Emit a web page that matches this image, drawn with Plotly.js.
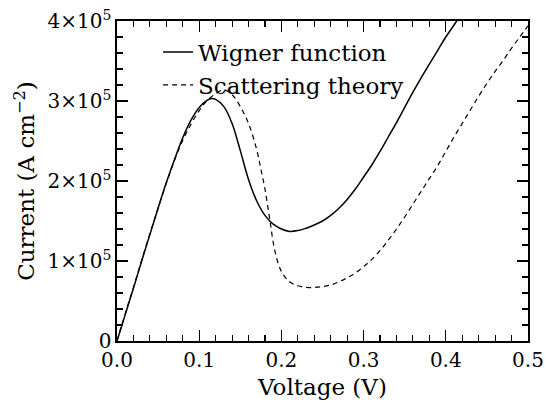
<!DOCTYPE html>
<html>
<head>
<meta charset="utf-8">
<script src="https://cdn.plot.ly/plotly-3.0.1.min.js"></script>
<style>html,body{margin:0;padding:0;background:#fff;}#chart{width:546px;height:405px;}</style>
</head>
<body>
<div id="chart"></div>
<script>
// Wigner function (solid)
const wignerV = [0, 0.01, 0.02, 0.03, 0.04, 0.05, 0.06, 0.07, 0.08, 0.09, 0.10, 0.11, 0.115, 0.12, 0.13, 0.14, 0.15, 0.16, 0.17, 0.18, 0.19, 0.20, 0.21, 0.22, 0.23, 0.24, 0.25, 0.26, 0.27, 0.28, 0.29, 0.30, 0.31, 0.32, 0.33, 0.34, 0.35, 0.36, 0.37, 0.38, 0.39, 0.40, 0.41, 0.42];
const wignerI = [0, 33e3, 66e3, 100e3, 133e3, 166e3, 198e3, 227e3, 254e3, 276e3, 292e3, 301e3, 303e3, 302e3, 293e3, 272e3, 238e3, 202e3, 175e3, 157e3, 146e3, 140e3, 137e3, 138e3, 141e3, 145e3, 150e3, 157e3, 166e3, 177e3, 190e3, 205e3, 220e3, 237e3, 255e3, 273e3, 292e3, 311e3, 329e3, 346e3, 363e3, 380e3, 395e3, 410e3];
// Scattering theory (dashed)
const scatV = [0, 0.01, 0.02, 0.03, 0.04, 0.05, 0.06, 0.07, 0.08, 0.09, 0.10, 0.11, 0.12, 0.13, 0.14, 0.15, 0.16, 0.17, 0.175, 0.18, 0.186, 0.192, 0.20, 0.21, 0.22, 0.23, 0.24, 0.25, 0.26, 0.27, 0.28, 0.29, 0.30, 0.31, 0.32, 0.33, 0.34, 0.35, 0.36, 0.37, 0.38, 0.39, 0.40, 0.41, 0.42, 0.43, 0.44, 0.45, 0.46, 0.47, 0.48, 0.49, 0.50];
const scatI = [0, 34e3, 67e3, 101e3, 134e3, 166e3, 197e3, 226e3, 251e3, 271e3, 288e3, 301e3, 309e3, 314e3, 308e3, 293e3, 272e3, 239e3, 215e3, 190e3, 151e3, 113e3, 87e3, 74e3, 69e3, 67e3, 67e3, 68e3, 70e3, 74e3, 79e3, 85e3, 93e3, 102e3, 113e3, 126e3, 140e3, 155e3, 171e3, 187e3, 203e3, 219e3, 237e3, 255e3, 272e3, 289e3, 306e3, 322e3, 337e3, 351e3, 366e3, 380e3, 394e3];

const xTickVals = [0, 0.1, 0.2, 0.3, 0.4, 0.5];
const xTickText = ['0.0', '0.1', '0.2', '0.3', '0.4', '0.5'];
const yTickVals = [0, 1e5, 2e5, 3e5, 4e5];
const yTickText = ['0', '1×10<sup>5</sup>', '2×10<sup>5</sup>', '3×10<sup>5</sup>', '4×10<sup>5</sup>'];

const FONT = 'DejaVu Serif, Liberation Serif, serif';

const traces = [
  {x: wignerV, y: wignerI, type: 'scatter', mode: 'lines', name: 'Wigner function',
   line: {color: '#000', width: 1.5, shape: 'spline', smoothing: 1}},
  {x: scatV, y: scatI, type: 'scatter', mode: 'lines', name: 'Scattering theory',
   line: {color: '#000', width: 1.2, dash: '5px,4px', shape: 'spline', smoothing: 1}}
];

const axisCommon = {
  showgrid: false, zeroline: false, showline: true, linecolor: '#000', linewidth: 1.6,
  mirror: 'allticks', ticks: 'inside', ticklen: 11, tickwidth: 1.3, tickcolor: '#000',
  tickfont: {family: FONT, size: 20, color: '#000'}
};

const layout = {
  width: 546, height: 405,
  margin: {l: 117, r: 18, t: 21, b: 64},
  paper_bgcolor: '#fff', plot_bgcolor: '#fff',
  font: {family: FONT, color: '#000'},
  showlegend: true,
  legend: {x: 0.1, y: 0.97, xanchor: 'left', yanchor: 'top', bgcolor: 'rgba(0,0,0,0)',
           font: {family: FONT, size: 23, color: '#000'}, tracegroupgap: 0},
  xaxis: Object.assign({}, axisCommon, {
    range: [0, 0.5], tickvals: xTickVals, ticktext: xTickText,
    minor: {dtick: 0.02, ticks: 'inside', ticklen: 6, tickwidth: 1.1, tickcolor: '#000'},
    title: {text: 'Voltage (V)', font: {family: FONT, size: 23, color: '#000'}, standoff: 8}
  }),
  yaxis: Object.assign({}, axisCommon, {
    range: [0, 4e5], tickvals: yTickVals, ticktext: yTickText,
    minor: {dtick: 2e4, ticks: 'inside', ticklen: 6, tickwidth: 1.1, tickcolor: '#000'},
    title: {text: 'Current (A cm<sup>−2</sup>)', font: {family: FONT, size: 23, color: '#000'}, standoff: 6}
  })
};

Plotly.newPlot('chart', traces, layout, {displayModeBar: false, staticPlot: true});
</script>
</body>
</html>
